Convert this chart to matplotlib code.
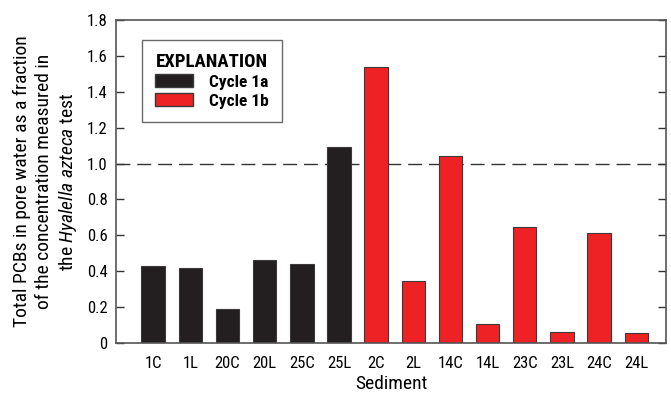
import matplotlib
matplotlib.use("Agg")
import matplotlib.pyplot as plt
from matplotlib.patches import Patch

FONT = "Roboto Condensed"
plt.rcParams['font.family'] = [FONT, 'DejaVu Sans']
plt.rcParams['mathtext.fontset'] = 'custom'
plt.rcParams['mathtext.rm'] = FONT
plt.rcParams['mathtext.it'] = FONT + ':italic'
plt.rcParams['mathtext.bf'] = FONT + ':bold'

categories = ["1C", "1L", "20C", "20L", "25C", "25L", "2C", "2L", "14C", "14L", "23C", "23L", "24C", "24L"]
values = [0.43, 0.42, 0.19, 0.465, 0.44, 1.09, 1.54, 0.345, 1.04, 0.105, 0.645, 0.06, 0.615, 0.055]
cycles = ["1a"] * 6 + ["1b"] * 8
colors = {"1a": "#231f20", "1b": "#ee2224"}
yticks = [0, 0.2, 0.4, 0.6, 0.8, 1.0, 1.2, 1.4, 1.6, 1.8]
ytick_labels = ["0", "0.2", "0.4", "0.6", "0.8", "1.0", "1.2", "1.4", "1.6", "1.8"]

fig = plt.figure(figsize=(6.71, 3.93), dpi=100)
ax = fig.add_axes([116/671, 1 - 343/393, 550/671, 323/393])

x = list(range(len(categories)))
ax.bar(x, values, width=0.63, color=[colors[c] for c in cycles],
       edgecolor="#3a3a3a", linewidth=0.8, zorder=2)
ax.axhline(1.0, color="#333333", linewidth=1.0, dashes=(10, 5), zorder=1)

ax.set_xlim(-1, len(categories) - 0.2)
ax.set_ylim(0, 1.8)
ax.set_xticks(x)
ax.set_xticklabels(categories, fontsize=12)
ax.tick_params(axis="x", length=0, pad=9)
ax.set_yticks(yticks)
ax.set_yticklabels(ytick_labels, fontsize=12)
ax.tick_params(axis="y", direction="in", length=6, width=1, color="#333333", right=True, pad=6)
for s in ax.spines.values():
    s.set_color("#555555")
    s.set_linewidth(1.2)

ax.set_xlabel("Sediment", fontsize=14, labelpad=3)
ax.set_ylabel("Total PCBs in pore water as a fraction\nof the concentration measured in\nthe $\\mathit{Hyalella\\ azteca}$ test",
              fontsize=14, linespacing=1.25)
ax.yaxis.set_label_coords(-0.068, 0.5)

handles = [Patch(facecolor=colors["1a"], edgecolor="#3a3a3a"),
           Patch(facecolor=colors["1b"], edgecolor="#3a3a3a")]
leg = ax.legend(handles, ["Cycle 1a", "Cycle 1b"], title="EXPLANATION",
                loc="upper left", bbox_to_anchor=(26/550, 1 - 20/323),
                frameon=True, fancybox=False, edgecolor="#444444",
                prop={"weight": "bold", "size": 12.5}, handlelength=2.2, handleheight=0.75,
                borderpad=0.75, labelspacing=0.2, handletextpad=0.9, borderaxespad=0)
leg.get_title().set_fontweight("bold")
leg.get_title().set_fontsize(13.5)
leg.get_frame().set_linewidth(1.0)

fig.savefig("out.png", dpi=100)
